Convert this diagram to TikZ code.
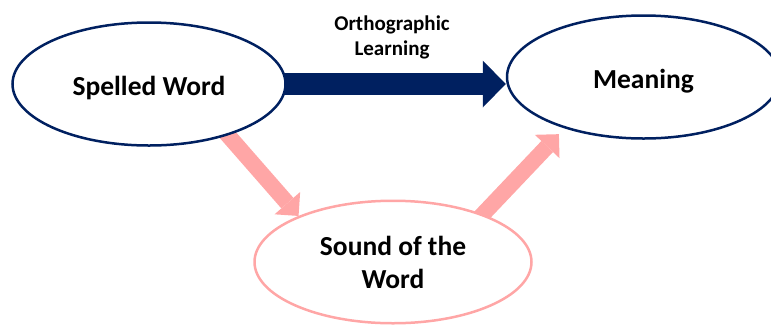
\documentclass[tikz,border=0pt]{standalone}
\usepackage{fontspec}
\setmainfont{Carlito}
\usetikzlibrary{shapes.geometric,arrows.meta,backgrounds}
\definecolor{navy}{HTML}{002060}
\definecolor{salmon}{HTML}{FFA6A6}

\begin{document}
\begin{tikzpicture}
[x=1pt,y=-1pt,
 bubble/.style={ellipse,draw=navy,line width=2.5pt,fill=white,inner sep=0pt,
   minimum width=273pt,minimum height=123pt,
   font=\bfseries\fontsize{27.5}{33}\selectfont},
 oneline/.style={text height=22pt,text depth=0pt},
 orthoarrow/.style={navy,line width=22pt,
   -{Triangle[length=23pt,width=47pt,line width=0pt]}},
 soundarrow/.style={salmon,line width=16pt,shorten <=-15pt,
   -{Triangle[length=17pt,width=34pt,line width=0pt]}}]
\useasboundingbox (0,0) rectangle (771,325);
\node[bubble,oneline] (spelled) at (149,84) {Spelled Word};
\node[bubble,oneline] (meaning) at (643.5,77) {Meaning};
\node[bubble,draw=salmon,minimum width=277pt,minimum height=122.5pt,align=center] (sound) at (393,262) {Sound of the\\Word};
\node[align=center,font=\bfseries\fontsize{21}{25}\selectfont] (ortho) at (392,37) {Orthographic\\Learning};
\begin{scope}[on background layer]
\draw[orthoarrow] (spelled.center) -- (spelled.center -| meaning.west);
\draw[soundarrow] (spelled.327) -- (sound.154);
\draw[soundarrow,shorten >=8pt] (sound.28) -- (meaning.213);
\end{scope}
\end{tikzpicture}
\end{document}
